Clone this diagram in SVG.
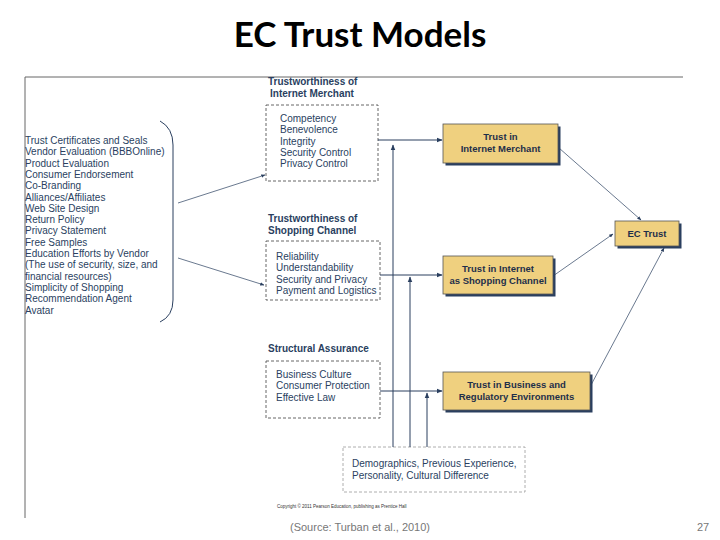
<svg xmlns="http://www.w3.org/2000/svg" width="720" height="540" viewBox="0 0 720 540">
<defs>
<marker id="a" viewBox="0 0 10 10" refX="9" refY="5" markerWidth="6" markerHeight="6" orient="auto"><path d="M0,1 L10,5 L0,9 z" fill="#2a3f5f"/></marker>
</defs>
<style>
text{font-family:"Liberation Sans",Arial,sans-serif;fill:#2a3f5f}
.t{font-size:10px}
.h{font-size:10px;font-weight:bold}
.d{fill:none;stroke:#555;stroke-dasharray:3,2;stroke-width:0.9}
.b{fill:#efd07f;stroke:#555;stroke-width:0.8}
.s{fill:#2a3f5f}
.bt{font-size:9.5px;font-weight:bold;text-anchor:middle;fill:#1e2f4a}
.l{stroke:#2a3f5f;stroke-width:1;fill:none}
.f{stroke:#2a3f5f;stroke-width:0.7;fill:none}
</style>
<rect width="720" height="540" fill="#fff"/>
<text x="360" y="47" text-anchor="middle" style="font-family:Lato,'Liberation Sans',sans-serif;font-size:35px;font-weight:bold;fill:#000">EC Trust Models</text>
<path d="M25,77 H683 M25,77 V518" stroke="#666" stroke-width="1" fill="none"/>
<g id="factors">
<text class="t"><tspan x="25" y="144">Trust Certificates and Seals</tspan><tspan x="25" y="155.3">Vendor Evaluation (BBBOnline)</tspan><tspan x="25" y="166.6">Product Evaluation</tspan><tspan x="25" y="177.9">Consumer Endorsement</tspan><tspan x="25" y="189.2">Co-Branding</tspan><tspan x="25" y="200.5">Alliances/Affiliates</tspan><tspan x="25" y="211.8">Web Site Design</tspan><tspan x="25" y="223.1">Return Policy</tspan><tspan x="25" y="234.4">Privacy Statement</tspan><tspan x="25" y="245.7">Free Samples</tspan><tspan x="25" y="257">Education Efforts by Vendor</tspan><tspan x="25" y="268.3">(The use of security, size, and</tspan><tspan x="25" y="279.6">financial resources)</tspan><tspan x="25" y="290.9">Simplicity of Shopping</tspan><tspan x="25" y="302.2">Recommendation Agent</tspan><tspan x="25" y="313.5">Avatar</tspan></text>
<path d="M160,121 Q173,128 173,145 V300 Q173,316 160,322" class="l"/>
</g>
<g id="merchant">
<text class="h"><tspan x="268" y="85">Trustworthiness of</tspan><tspan x="270" y="97">Internet Merchant</tspan></text>
<rect x="266" y="105" width="112" height="76" class="d"/>
<text class="t"><tspan x="280" y="122">Competency</tspan><tspan x="280" y="133.3">Benevolence</tspan><tspan x="280" y="144.6">Integrity</tspan><tspan x="280" y="155.9">Security Control</tspan><tspan x="280" y="167.2">Privacy Control</tspan></text>
</g>
<g id="channel">
<text class="h"><tspan x="268" y="222">Trustworthiness of</tspan><tspan x="268" y="234">Shopping Channel</tspan></text>
<rect x="266" y="241" width="114" height="59" class="d"/>
<text class="t"><tspan x="276" y="260">Reliability</tspan><tspan x="276" y="271.3">Understandability</tspan><tspan x="276" y="282.6">Security and Privacy</tspan><tspan x="276" y="293.9">Payment and Logistics</tspan></text>
</g>
<g id="structural">
<text class="h" x="268" y="352">Structural Assurance</text>
<rect x="266" y="361" width="114" height="57" class="d"/>
<text class="t"><tspan x="276" y="378">Business Culture</tspan><tspan x="276" y="389.3">Consumer Protection</tspan><tspan x="276" y="400.6">Effective Law</tspan></text>
</g>
<g id="demo">
<rect x="343" y="447" width="182" height="45" fill="none" stroke="#999" stroke-dasharray="3,2" stroke-width="0.8"/>
<text class="t"><tspan x="352" y="467">Demographics, Previous Experience,</tspan><tspan x="352" y="478.5">Personality, Cultural Difference</tspan></text>
</g>
<g id="tim">
<rect x="445.5" y="126.5" width="115" height="39" class="s"/>
<rect x="443" y="124" width="115" height="39" class="b"/>
<text class="bt"><tspan x="500.5" y="140">Trust in</tspan><tspan x="500.5" y="151.5">Internet Merchant</tspan></text>
</g>
<g id="tis">
<rect x="445.5" y="258.5" width="110" height="38" class="s"/>
<rect x="443" y="256" width="110" height="38" class="b"/>
<text class="bt"><tspan x="498" y="272">Trust in Internet</tspan><tspan x="498" y="283.5">as Shopping Channel</tspan></text>
</g>
<g id="tib">
<rect x="445.5" y="374.5" width="147" height="38" class="s"/>
<rect x="443" y="372" width="147" height="38" class="b"/>
<text class="bt"><tspan x="516.5" y="388">Trust in Business and</tspan><tspan x="516.5" y="400">Regulatory Environments</tspan></text>
</g>
<g id="ec">
<rect x="617.5" y="223.5" width="64" height="25" class="s"/>
<rect x="615" y="221" width="64" height="25" class="b"/>
<text class="bt" x="647" y="237">EC Trust</text>
</g>
<g id="connectors">
<path d="M178,203 L265,175" class="f" marker-end="url(#a)"/>
<path d="M178,258 L264,285" class="f" marker-end="url(#a)"/>
<path d="M378,140 H442" class="l" marker-end="url(#a)"/>
<path d="M380,275 H442" class="l" marker-end="url(#a)"/>
<path d="M380,391 H442" class="l" marker-end="url(#a)"/>
<path d="M393,447 V145" class="l" marker-end="url(#a)" stroke="#6b7b90"/>
<path d="M410,447 V277" class="l" marker-end="url(#a)"/>
<path d="M427,447 V393" class="l" marker-end="url(#a)"/>
<path d="M559,148 L641,220" class="f" marker-end="url(#a)"/>
<path d="M553,276 L613,234" class="f" marker-end="url(#a)"/>
<path d="M591,385 L664,248" class="f" marker-end="url(#a)"/>
</g>
<text x="277" y="508" style="font-size:4.5px;fill:#333">Copyright © 2011 Pearson Education, publishing as Prentice Hall</text>
<text x="360" y="531" text-anchor="middle" style="font-size:11px;fill:#777">(Source: Turban et al., 2010)</text>
<text x="703" y="531" text-anchor="middle" style="font-size:11px;fill:#777">27</text>
</svg>
